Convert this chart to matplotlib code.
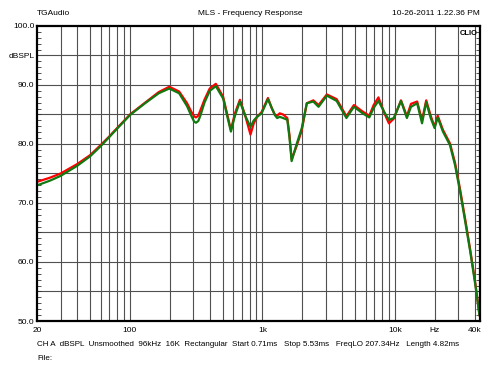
import matplotlib
matplotlib.use("Agg")
import matplotlib.pyplot as plt
from matplotlib.ticker import FixedLocator, MultipleLocator, NullFormatter

plt.rcParams['font.family'] = ['Liberation Sans', 'DejaVu Sans']

freq = [20, 25, 30, 40, 50, 60, 70, 80, 90, 100, 130, 165, 198, 235, 270, 290, 305, 315,
        328, 340, 365, 400, 445, 505, 545, 578, 620, 676, 737, 812, 860, 911, 985, 1100,
        1180, 1240, 1290, 1350, 1430, 1540, 1600, 1660, 1800, 1980, 2160, 2420, 2650,
        3060, 3630, 4300, 4900, 5700, 6400, 6900, 7500, 8400, 9000, 9800, 11100,
        12300, 13200, 14700, 16000, 17200, 18600, 19900, 21000, 23000, 26000, 28400,
        31000, 33900, 37000, 40400, 43400]
green = [73.0, 73.8, 74.6, 76.3, 77.9, 79.6, 81.2, 82.6, 83.8, 84.9, 86.9, 88.6, 89.4,
         88.6, 86.4, 84.8, 83.8, 83.6, 83.9, 84.8, 87.0, 89.0, 89.8, 87.7, 84.5, 82.1,
         84.8, 87.2, 84.9, 82.9, 84.0, 84.6, 85.2, 87.6, 86.0, 84.9, 84.4, 84.6, 84.4,
         84.1, 81.0, 77.1, 79.8, 82.7, 86.9, 87.2, 86.3, 88.2, 87.3, 84.4, 86.3, 85.2,
         84.5, 86.1, 87.3, 85.2, 84.1, 84.4, 87.3, 84.4, 86.3, 86.9, 83.5, 87.1, 84.4,
         82.7, 84.5, 82.1, 79.8, 76.4, 71.9, 66.8, 61.7, 56.1, 51.0]
red = [73.6, 74.3, 75.0, 76.6, 78.1, 79.8, 81.3, 82.7, 83.9, 85.0, 87.0, 88.8, 89.7,
       88.9, 86.9, 85.5, 84.7, 84.5, 84.8, 85.7, 87.5, 89.4, 90.2, 88.0, 84.8, 82.4,
       85.2, 87.5, 85.0, 81.6, 83.5, 84.6, 85.4, 87.8, 86.0, 85.0, 84.8, 85.2, 85.0,
       84.4, 81.5, 77.4, 79.5, 82.3, 86.9, 87.4, 86.6, 88.4, 87.6, 84.7, 86.6, 85.5,
       84.8, 86.6, 87.9, 85.0, 83.5, 84.3, 87.4, 84.7, 86.8, 87.2, 84.0, 87.4, 84.8,
       82.9, 84.8, 82.4, 80.1, 76.8, 72.3, 67.2, 62.0, 56.4, 51.0]

x_ticks = [20, 100, 1000, 10000, 20000, 40000]
x_labels = ["20", "100", "1k", "10k", "Hz", "40k"]
y_ticks = [50, 60, 70, 80, 90, 95, 100]
y_labels = ["50.0", "60.0", "70.0", "80.0", "90.0", "dBSPL", "100.0"]
x_grid = [30, 40, 50, 60, 70, 80, 90, 100, 200, 300, 400, 500, 600, 700, 800, 900,
          1000, 2000, 3000, 4000, 5000, 6000, 7000, 8000, 9000, 10000, 20000, 30000, 40000]
y_grid = [55, 60, 65, 70, 75, 80, 85, 90, 95]

header_left = "TGAudio"
header_mid = "MLS - Frequency Response"
header_right = "10-26-2011 1.22.36 PM"
footer = "CH A  dBSPL  Unsmoothed  96kHz  16K  Rectangular  Start 0.71ms   Stop 5.53ms   FreqLO 207.34Hz   Length 4.82ms"
footer2 = "File:"

fig = plt.figure(figsize=(5, 3.75), dpi=100)
ax = fig.add_axes([0.0746, 0.144, 0.8854, 0.7867])
ax.set_xscale('log')
ax.set_xlim(20, 43800)
ax.set_ylim(50, 100)

for g in x_grid:
    ax.axvline(g, color='#505050', lw=0.8, zorder=1)
for g in y_grid:
    ax.axhline(g, color='#505050', lw=0.8, zorder=1)

ax.plot(freq, red, color='#ff0000', lw=1.6, zorder=3)
ax.plot(freq, green, color='#107a10', lw=1.6, zorder=4)

ax.xaxis.set_major_locator(FixedLocator(x_ticks))
ax.set_xticklabels(x_labels, fontsize=6)
ax.xaxis.set_minor_locator(FixedLocator([]))
ax.xaxis.set_minor_formatter(NullFormatter())
ax.tick_params(axis='x', which='major', length=0, pad=4)

ax.yaxis.set_major_locator(FixedLocator(y_ticks))
ax.set_yticklabels(y_labels, fontsize=6)
ax.yaxis.set_minor_locator(MultipleLocator(1))
ax.tick_params(axis='y', which='major', length=0, pad=2)
ax.tick_params(axis='y', which='minor', direction='in', length=3, width=0.6,
               left=True, right=True, color='#333333')

for s in ax.spines.values():
    s.set_linewidth(1.6)
    s.set_color('black')
    s.set_zorder(5)

ax.text(0.995, 0.985, "CLIO", transform=ax.transAxes, ha='right', va='top',
        fontsize=5.5, fontweight='bold', zorder=6)

fig.text(0.074, 0.963, header_left, fontsize=6, ha='left', va='center')
fig.text(0.5, 0.963, header_mid, fontsize=6, ha='center', va='center')
fig.text(0.96, 0.963, header_right, fontsize=6, ha='right', va='center')
fig.text(0.074, 1 - 345 / 375, footer, fontsize=5.8, ha='left', va='center')
fig.text(0.074, 1 - 358 / 375, footer2, fontsize=5.8, ha='left', va='center')

fig.savefig("out.png", dpi=100, facecolor='white')
